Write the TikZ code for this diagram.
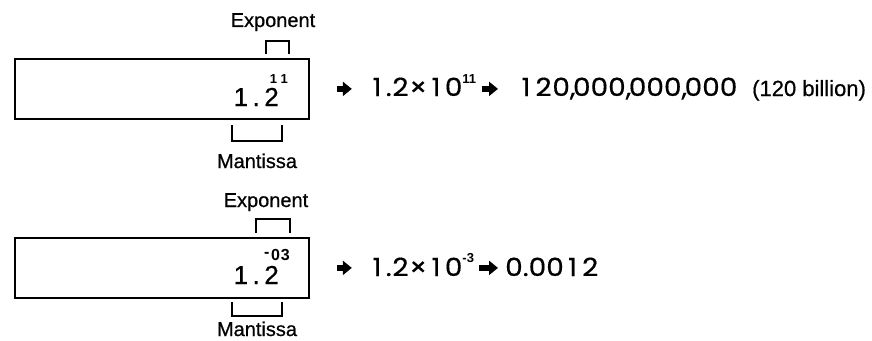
\documentclass[tikz,border=0pt]{standalone}
\usepackage{fontspec}
\setmainfont{Liberation Sans}
\newfontfamily\geofont[FakeStretch=1.12, FakeBold=0.5]{Poppins}
\newfontfamily\labelfont[FakeBold=0.6]{Liberation Sans}
\usetikzlibrary{arrows.meta}
% every figure set in a slot as wide as a zero
\newcommand{\tn}[1]{\hbox to \fontcharwd\font`0{\hss#1\hss}}
% a thin comma between groups of digits
\newcommand{\gc}{,\kern-2.5pt}
\begin{document}
\begin{tikzpicture}[x=1pt,y=-1pt,
  display/.style={draw, line width=1.8pt, minimum width=294pt, minimum height=60pt,
                  anchor=north west, inner sep=0pt},
  brk/.style={line width=1.8pt},
  lbl/.style={font=\labelfont\fontsize{20}{22}\selectfont, anchor=base, inner sep=0pt},
  digits/.style={font=\labelfont\fontsize{26}{28}\selectfont, anchor=base east, inner sep=0pt},
  expo/.style={font=\bfseries\fontsize{13}{14}\selectfont, anchor=base east, inner sep=0pt},
  val/.style={font=\geofont\fontsize{25}{28}\selectfont, anchor=base west, inner sep=0pt},
  note/.style={font=\labelfont\fontsize{22}{24}\selectfont, anchor=base west, inner sep=0pt},
  fat/.style={line width=5.5pt, -{Triangle[length=9pt,width=14pt]}},
]
\useasboundingbox (0,0) rectangle (872,340);
\newcommand{\supfig}[2]{\raisebox{#1}{\fontspec{Liberation Sans}\bfseries\fontsize{13}{14}\selectfont #2}}

% ---- first display: 1.2 x 10^11 ----
\node[display] (box1) at (14,58) {};
\node[digits] (man1) at (279,106) {1\kern4.5pt.\kern4.5pt2};
\node[expo] (exp1) at (288,83) {1\kern3.5pt1};
\node[lbl] (elab1) at (273,27) {Exponent};
\node[lbl] (mlab1) at (257,168) {Mantissa};
\draw[brk] (266,54) -- (266,41) -- (289,41) -- (289,54);
\draw[brk] (232,125) -- (232,141) -- (282,141) -- (282,125);

\node[val] (sci1) at (368,96) {\tn{1}.\tn{2}×\tn{1}0\supfig{13pt}{11}};
\node[val] (num1) at (517,96) {\tn{1}\tn{2}0\gc000\gc000\gc000};
\node[note] (bil) at (752,96) {(120 billion)};
\draw[fat] ([xshift=27pt]box1.east) -- ([xshift=42pt]box1.east);
\draw[fat] ([xshift=-35pt]num1.west |- box1.east) -- ([xshift=-19pt]num1.west |- box1.east);

% ---- second display: 1.2 x 10^-3 ----
\node[display] (box2) at (14,237) {};
\node[digits] (man2) at (279,284) {1\kern4.5pt.\kern4.5pt2};
\node[expo, font=\bfseries\fontsize{16}{17}\selectfont] (exp2) at (290,260)
  {\raisebox{3pt}{-}\kern1.5pt0\kern1pt3};
\node[lbl] (elab2) at (266,207) {Exponent};
\node[lbl] (mlab2) at (257,336) {Mantissa};
\draw[brk] (256,233) -- (256,219) -- (290,219) -- (290,233);
\draw[brk] (232,302) -- (232,316) -- (282,316) -- (282,302);

\node[val] (sci2) at (368,276) {\tn{1}.\tn{2}×\tn{1}0\supfig{14pt}{-3}};
\node[val] (num2) at (505,276) {0.00\tn{1}\tn{2}};
\draw[fat] ([xshift=27pt]box2.east) -- ([xshift=42pt]box2.east);
\draw[fat] ([xshift=-26pt]num2.west |- box2.east) -- ([xshift=-7pt]num2.west |- box2.east);
\end{tikzpicture}
\end{document}
